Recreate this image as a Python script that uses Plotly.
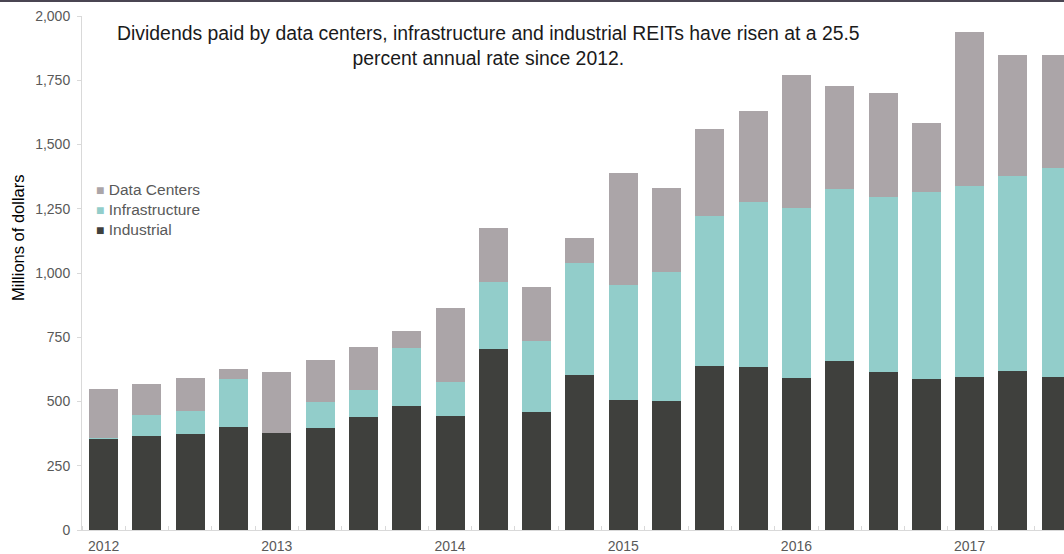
import plotly.graph_objects as go

quarters = [f"{y} Q{q}" for y in range(2012, 2018) for q in range(1, 5)][:23]
year_labels = ["2012", "2013", "2014", "2015", "2016", "2017"]

industrial = [357, 366, 375, 402, 377, 396, 441, 484, 445, 704, 459, 602,
              505, 501, 637, 634, 593, 659, 616, 586, 594, 620, 597]
infrastructure = [2, 82, 88, 187, 0, 102, 105, 225, 132, 260, 275, 436,
                  450, 502, 585, 644, 660, 667, 680, 730, 745, 757, 813]
data_centers = [188, 120, 128, 37, 239, 163, 166, 64, 287, 211, 212, 97,
                434, 329, 340, 352, 516, 402, 404, 266, 600, 471, 438]

y_ticks = [0, 250, 500, 750, 1000, 1250, 1500, 1750, 2000]

series = [("Industrial", industrial, "#3f403d"),
          ("Infrastructure", infrastructure, "#92cdca"),
          ("Data Centers", data_centers, "#aba5a8")]

xpos = list(range(len(quarters)))
year_pos = [xpos[quarters.index(f"{y} Q1")] for y in year_labels]

fig = go.Figure()
for name, vals, col in series:
    fig.add_trace(go.Bar(x=xpos, y=vals, name=name, showlegend=False,
                         marker=dict(color=col, line=dict(width=0)),
                         hovertext=quarters))

W, H = 1064, 554
ml, mr, mt, mb = 82, 0, 16, 24
pw, ph = W - ml - mr, H - mt - mb

def px(xp):
    return (xp - ml) / pw

def py(yp):
    return (H - mb - yp) / ph

legend_text = "<br>".join(
    f"<span style='font-size:14px;color:{col}'>■</span> {name}"
    for name, _, col in reversed(series)
)

fig.update_layout(
    width=W, height=H,
    margin=dict(l=ml, r=mr, t=mt, b=mb),
    barmode="stack",
    bargap=0.33,
    plot_bgcolor="white",
    paper_bgcolor="white",
    font=dict(family="Liberation Sans, Arial, sans-serif", color="#595959"),
    showlegend=False,
    xaxis=dict(
        range=[-0.5, 22.18],
        automargin=False,
        tickmode="array",
        tickvals=year_pos,
        ticktext=year_labels,
        ticks="",
        ticklabelstandoff=3,
        showgrid=False,
        zeroline=False,
        showline=True,
        linecolor="#d9d9d9",
        linewidth=1,
        tickfont=dict(size=14, color="#595959"),
        minor=dict(tick0=0.5, dtick=1, ticks="inside", ticklen=4,
                   tickcolor="#d9d9d9", tickwidth=1, showgrid=False),
    ),
    yaxis=dict(
        range=[0, 2000],
        automargin=False,
        tickmode="array",
        tickvals=y_ticks,
        tickformat=",",
        ticks="outside",
        ticklen=4,
        ticklabelstandoff=4,
        tickcolor="#d9d9d9",
        showgrid=False,
        zeroline=False,
        showline=True,
        linecolor="#d9d9d9",
        linewidth=1,
        tickfont=dict(size=14, color="#595959"),
    ),
    annotations=[
        dict(
            text="Dividends paid by data centers, infrastructure and industrial REITs have risen at a 25.5<br>percent annual rate since 2012.",
            xref="paper", yref="paper", x=px(488), y=py(45),
            xanchor="center", yanchor="middle", showarrow=False, align="center",
            font=dict(size=19.4, color="#1a1a1a"),
        ),
        dict(
            text="Millions of dollars",
            xref="paper", yref="paper", x=px(18), y=py(238),
            xanchor="center", yanchor="middle", showarrow=False,
            textangle=-90,
            font=dict(size=16.5, color="#000000"),
        ),
        dict(
            text=legend_text,
            xref="paper", yref="paper", x=px(94), y=py(209),
            xanchor="left", yanchor="middle", showarrow=False, align="left",
            font=dict(size=15.5, color="#595959"),
        ),
    ],
    shapes=[
        dict(type="line", xref="paper", yref="paper",
             x0=px(0), x1=1, y0=py(1), y1=py(1),
             line=dict(color="#4a4552", width=2)),
    ],
)

fig.write_html("out.html")
